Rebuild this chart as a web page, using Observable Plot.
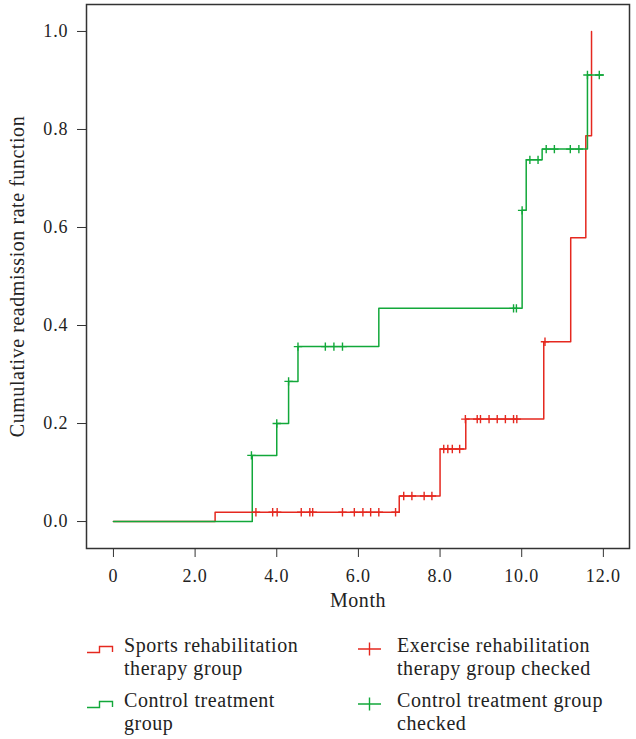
<!DOCTYPE html>
<html>
<head>
<meta charset="utf-8">
<script src="https://cdn.jsdelivr.net/npm/d3@7"></script>
<script src="https://cdn.jsdelivr.net/npm/@observablehq/plot@0.6"></script>
<style>
  body { margin: 0; background: #fff; font-family: "Liberation Serif", "DejaVu Serif", serif; }
  #wrap { position: relative; width: 636px; height: 739px; }
  .leg { position: absolute; font-size: 20px; letter-spacing: 0.55px; line-height: 23px; color: #222; white-space: nowrap; }
  .sym { position: absolute; }
  g[aria-label="x-axis tick label"] text, g[aria-label="y-axis tick label"] text { letter-spacing: 0.9px; }
  g[aria-label="x-axis label"] text, g[aria-label="y-axis label"] text { letter-spacing: 0.55px; }
</style>
</head>
<body>
<div id="wrap">
  <div id="chart"></div>
</div>
<script>
// ---- Data ----
const redStepTimes  = [0, 2.49, 7.0, 8.0, 8.63, 10.54, 11.2, 11.57, 11.71];
const redStepValues = [0, 0.019, 0.052, 0.148, 0.209, 0.367, 0.579, 0.787, 1.0];

const greenStepTimes  = [0, 3.4, 4.0, 4.29, 4.52, 6.5, 10.01, 10.11, 10.5, 11.61, 12.0];
const greenStepValues = [0, 0.135, 0.20, 0.286, 0.357, 0.435, 0.635, 0.738, 0.760, 0.911, 0.911];

const redCensorTimes  = [3.49, 3.90, 4.01, 4.60, 4.81, 4.88, 5.61, 5.90, 6.11, 6.30, 6.50, 6.91,
                         7.11, 7.31, 7.61, 7.80,
                         8.09, 8.19, 8.30, 8.48,
                         8.62, 8.91, 8.99, 9.20, 9.40, 9.60, 9.80, 9.88,
                         10.57];
const redCensorValues = [0.019, 0.019, 0.019, 0.019, 0.019, 0.019, 0.019, 0.019, 0.019, 0.019, 0.019, 0.019,
                         0.052, 0.052, 0.052, 0.052,
                         0.148, 0.148, 0.148, 0.148,
                         0.209, 0.209, 0.209, 0.209, 0.209, 0.209, 0.209, 0.209,
                         0.367];

const greenCensorTimes  = [3.38, 4.0, 4.29, 4.52, 5.19, 5.40, 5.61, 9.80, 9.87, 10.01, 10.2, 10.4,
                           10.6, 10.8, 11.19, 11.4, 11.61, 11.9];
const greenCensorValues = [0.135, 0.20, 0.286, 0.357, 0.357, 0.357, 0.357, 0.435, 0.435, 0.635, 0.738, 0.738,
                           0.760, 0.760, 0.760, 0.760, 0.911, 0.911];

const xTicks = [0, 2, 4, 6, 8, 10, 12];
const yTicks = [0, 0.2, 0.4, 0.6, 0.8, 1.0];

const RED = "#e5281f";
const GREEN = "#12a83a";

// ---- Build tables ----
const redLine = redStepTimes.map((t, i) => ({t, v: redStepValues[i]}));
const greenLine = greenStepTimes.map((t, i) => ({t, v: greenStepValues[i]}));
const redCens = redCensorTimes.map((t, i) => ({t, v: redCensorValues[i]}));
const greenCens = greenCensorTimes.map((t, i) => ({t, v: greenCensorValues[i]}));

const cross = {
  draw(ctx, size) {
    const r = Math.sqrt(size / Math.PI);
    ctx.moveTo(-r, 0); ctx.lineTo(r, 0);
    ctx.moveTo(0, -r); ctx.lineTo(0, r);
  }
};

const chart = Plot.plot({
  width: 636,
  height: 615,
  marginLeft: 86,
  marginRight: 7,
  marginTop: 4,
  marginBottom: 67,
  style: { fontFamily: '"Liberation Serif", "DejaVu Serif", serif', fontSize: "18px", color: "#222", background: "white" },
  x: { domain: [-0.66, 12.64] },
  y: { domain: [-0.055, 1.055] },
  marks: [
    Plot.frame({ stroke: "#333", strokeWidth: 1.5 }),
    Plot.axisX({ ticks: xTicks, tickFormat: d => d === 0 ? "0" : d.toFixed(1), tickSize: 9, tickPadding: 12,
      label: null, stroke: "#333", fontSize: 18 }),
    Plot.axisX({ ticks: [], label: "Month", labelAnchor: "center", labelArrow: "none", labelOffset: 58, fontSize: 20 }),
    Plot.axisY({ ticks: yTicks, tickFormat: d => d.toFixed(1), tickSize: 9, tickPadding: 9,
      label: null, stroke: "#333", fontSize: 18 }),
    Plot.axisY({ ticks: [], label: "Cumulative readmission rate function", labelAnchor: "center", labelArrow: "none", labelOffset: 77, fontSize: 20 }),
    Plot.line(redLine, { x: "t", y: "v", curve: "step-after", stroke: RED, strokeWidth: 1.5 }),
    Plot.line(greenLine, { x: "t", y: "v", curve: "step-after", stroke: GREEN, strokeWidth: 1.5 }),
    Plot.dot(redCens, { x: "t", y: "v", symbol: cross, r: 4.2, stroke: RED, strokeWidth: 1.4, fill: "none" }),
    Plot.dot(greenCens, { x: "t", y: "v", symbol: cross, r: 4.2, stroke: GREEN, strokeWidth: 1.4, fill: "none" })
  ]
});
document.getElementById("chart").appendChild(chart);

// ---- Legend ----
const legendItems = [
  { kind: "step", color: RED, lines: ["Sports rehabilitation", "therapy group"], x: 87, tx: 124, top: 634 },
  { kind: "cross", color: RED, lines: ["Exercise rehabilitation", "therapy group checked"], x: 357, tx: 397, top: 634 },
  { kind: "step", color: GREEN, lines: ["Control treatment", "group"], x: 87, tx: 124, top: 689 },
  { kind: "cross", color: GREEN, lines: ["Control treatment group", "checked"], x: 357, tx: 397, top: 689 }
];
const wrap = document.getElementById("wrap");
for (const it of legendItems) {
  const t = document.createElement("div");
  t.className = "leg";
  t.style.left = it.tx + "px";
  t.style.top = it.top + "px";
  t.innerHTML = it.lines.join("<br>");
  wrap.appendChild(t);
  const s = document.createElementNS("http://www.w3.org/2000/svg", "svg");
  s.setAttribute("class", "sym");
  s.setAttribute("width", 27); s.setAttribute("height", 16);
  s.style.left = it.x + "px"; s.style.top = (it.top + 7) + "px";
  const p = document.createElementNS("http://www.w3.org/2000/svg", "path");
  p.setAttribute("d", it.kind === "step" ? "M0,11.5H12.5V5.5H25.5V11" : "M1,8H24M12.5,1.5V14.5");
  p.setAttribute("fill", "none");
  p.setAttribute("stroke", it.color);
  p.setAttribute("stroke-width", 1.4);
  s.appendChild(p);
  wrap.appendChild(s);
}
</script>
</body>
</html>
